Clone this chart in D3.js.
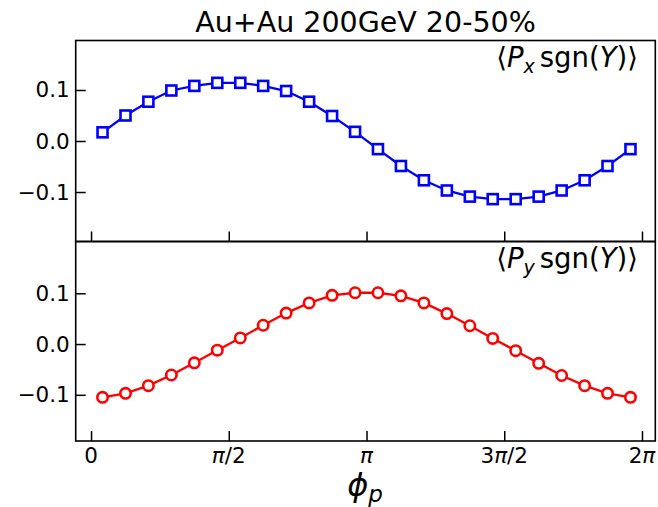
<!DOCTYPE html>
<html>
<head>
<meta charset="utf-8">
<script src="https://cdn.jsdelivr.net/npm/d3@7"></script>
<style>
  html, body { margin: 0; padding: 0; background: #fff; }
  svg { display: block; }
  text { font-family: "DejaVu Sans", sans-serif; fill: #000; }
</style>
</head>
<body>
<svg id="chart" width="658" height="507"></svg>
<script>
// ---------- data ----------
const phi = [0.131, 0.393, 0.654, 0.916, 1.178, 1.440, 1.702, 1.963, 2.225, 2.487, 2.749, 3.011,
             3.272, 3.534, 3.796, 4.058, 4.320, 4.581, 4.843, 5.105, 5.367, 5.629, 5.890, 6.152];
const pxSgnY = [0.017, 0.050, 0.077, 0.099, 0.108, 0.114, 0.114, 0.108, 0.098, 0.077, 0.049, 0.018,
                -0.016, -0.049, -0.077, -0.097, -0.109, -0.114, -0.114, -0.109, -0.097, -0.077, -0.049, -0.016];
const pySgnY = [-0.105, -0.097, -0.082, -0.061, -0.037, -0.012, 0.012, 0.037, 0.061, 0.081, 0.096, 0.101,
                0.101, 0.095, 0.081, 0.060, 0.036, 0.011, -0.013, -0.038, -0.062, -0.082, -0.097, -0.105];
const xTickValues = [0, Math.PI / 2, Math.PI, 3 * Math.PI / 2, 2 * Math.PI];
const xTickLabels = [["0"], [["π", true], ["/2", false]], [["π", true]], [["3", false], ["π", true], ["/2", false]], [["2", false], ["π", true]]];
const yTickValues = [-0.1, 0.0, 0.1];
const yTickLabels = ["−0.1", "0.0", "0.1"];
const titleText = "Au+Au 200GeV 20-50%";

// ---------- layout ----------
const L = 75.7, R = 655.3, T = 40.5, M = 241.5, B = 441;
const svg = d3.select("#chart");

const x = d3.scaleLinear().domain([-0.175, 6.435]).range([L, R]);
const yTop = d3.scaleLinear().domain([-0.197, 0.197]).range([M, T]);
const yBot = d3.scaleLinear().domain([-0.191, 0.202]).range([B, M]);

function panel(yScale, top, bottom, values, color, marker, sub) {
  const g = svg.append("g");
  // y axis ticks (inward)
  const yAxis = d3.axisRight(yScale).tickValues(yTickValues).tickSize(10).tickFormat("");
  const ya = g.append("g").attr("transform", `translate(${L},0)`).call(yAxis);
  ya.select(".domain").remove();
  ya.selectAll(".tick line").attr("stroke", "#000").attr("stroke-width", 1.5);
  // y labels
  g.selectAll(".ylab").data(yTickValues).enter().append("text")
    .attr("x", L - 6).attr("y", d => yScale(d) + 7.5)
    .attr("text-anchor", "end").attr("font-size", 21.5)
    .text((d, i) => yTickLabels[i]);
  // x ticks inward at bottom
  const xAxis = d3.axisTop(x).tickValues(xTickValues).tickSize(10).tickFormat("");
  const xa = g.append("g").attr("transform", `translate(0,${bottom})`).call(xAxis);
  xa.select(".domain").remove();
  xa.selectAll(".tick line").attr("stroke", "#000").attr("stroke-width", 1.5);

  // line
  const line = d3.line().x((d, i) => x(phi[i])).y(d => yScale(d));
  g.append("path").datum(values).attr("d", line)
    .attr("fill", "none").attr("stroke", color).attr("stroke-width", 2.3);
  if (marker === "square") {
    g.selectAll(".m").data(values).enter().append("rect")
      .attr("x", (d, i) => x(phi[i]) - 5).attr("y", d => yScale(d) - 5)
      .attr("width", 10).attr("height", 10)
      .attr("fill", "#fff").attr("stroke", color).attr("stroke-width", 2.6);
  } else {
    g.selectAll(".m").data(values).enter().append("circle")
      .attr("cx", (d, i) => x(phi[i])).attr("cy", d => yScale(d)).attr("r", 5.2)
      .attr("fill", "#fff").attr("stroke", color).attr("stroke-width", 2.6);
  }
  // frame
  g.append("rect").attr("x", L).attr("y", top).attr("width", R - L).attr("height", bottom - top)
    .attr("fill", "none").attr("stroke", "#000").attr("stroke-width", 1.6);

  // legend-like label
  const t = g.append("text").attr("x", 638).attr("y", top + 26.5)
    .attr("text-anchor", "end").attr("font-size", 27.5);
  t.append("tspan").text("⟨");
  t.append("tspan").attr("font-style", "italic").text("P");
  t.append("tspan").attr("font-style", "italic").attr("font-size", 19).attr("dy", 6).text(sub);
  t.append("tspan").attr("dy", -6).attr("dx", 5).text("sgn(");
  t.append("tspan").attr("font-style", "italic").text("Y");
  t.append("tspan").text(")⟩");
}

panel(yTop, T, M, pxSgnY, "#0000ff", "square", "x");
panel(yBot, M, B, pySgnY, "#ff0000", "circle", "y");

// x tick labels
xTickValues.forEach((v, i) => {
  const t = svg.append("text").attr("x", x(v)).attr("y", B + 22)
    .attr("text-anchor", "middle").attr("font-size", 21.5);
  const parts = xTickLabels[i];
  parts.forEach(p => {
    if (typeof p === "string") t.append("tspan").text(p);
    else t.append("tspan").attr("font-style", p[1] ? "italic" : "normal").text(p[0]);
  });
});

// x axis label
const xl = svg.append("text").attr("x", 365).attr("y", 496)
  .attr("text-anchor", "middle").attr("font-size", 32);
xl.append("tspan").attr("font-style", "italic").text("ϕ");
xl.append("tspan").attr("font-style", "italic").attr("font-size", 23).attr("dy", 6).text("p");

// title
svg.append("text").attr("x", (L + R) / 2).attr("y", 31.5)
  .attr("text-anchor", "middle").attr("font-size", 28.5).text(titleText);
</script>
</body>
</html>
